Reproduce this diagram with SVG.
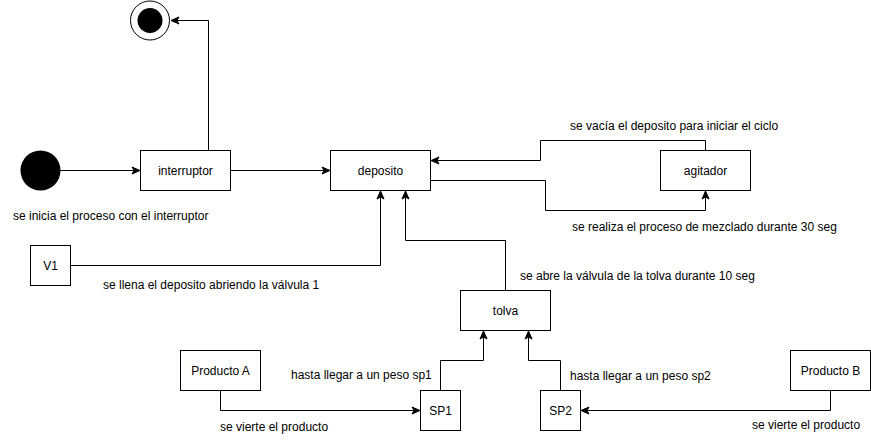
<svg xmlns="http://www.w3.org/2000/svg" width="871" height="441" viewBox="0 0 871 441">
<style>
.box{fill:#fff;stroke:#000;stroke-width:1}
.lbl{font-family:"Liberation Sans",Arial,sans-serif;font-size:12px;fill:#000}
.c{text-anchor:middle;dominant-baseline:central}
.edge{fill:none;stroke:#000;stroke-width:1}
</style>
<defs>
<marker id="arr" markerUnits="userSpaceOnUse" markerWidth="10" markerHeight="10" viewBox="0 0 10 10" refX="9" refY="5" orient="auto">
<path d="M1,1.5 L9,5 L1,8.5 L3,5 z" fill="#000" stroke="#000" stroke-width="1"/>
</marker>
</defs>
<rect width="871" height="441" fill="#fff"/>
<g id="connectors">
<path class="edge" d="M208.5,150 V20.5 H171" marker-end="url(#arr)"/>
<path class="edge" d="M60,170.5 H140" marker-end="url(#arr)"/>
<path class="edge" d="M230,170.5 H330" marker-end="url(#arr)"/>
<path class="edge" d="M705.5,150 V140.5 H540.5 V160.5 H431" marker-end="url(#arr)"/>
<path class="edge" d="M430,180.5 H545.5 V210.5 H705.5 V191" marker-end="url(#arr)"/>
<path class="edge" d="M70,265.5 H380.5 V191" marker-end="url(#arr)"/>
<path class="edge" d="M505.5,290 V240.5 H405.5 V191" marker-end="url(#arr)"/>
<path class="edge" d="M440.5,390 V360.5 H483.5 V331" marker-end="url(#arr)"/>
<path class="edge" d="M560.5,390 V360.5 H528.5 V331" marker-end="url(#arr)"/>
<path class="edge" d="M220.5,390 V410.5 H420" marker-end="url(#arr)"/>
<path class="edge" d="M830.5,390 V410.5 H581" marker-end="url(#arr)"/>
</g>
<g id="end">
<circle cx="150" cy="20.5" r="19.5" fill="#fff" stroke="#000"/>
<circle cx="150" cy="20.5" r="12.5" fill="#000"/>
</g>
<g id="start"><circle cx="40.5" cy="170.5" r="20" fill="#000"/></g>
<g id="interruptor"><rect class="box" x="140.5" y="150.5" width="90" height="40"/><text class="lbl c" x="185.5" y="170.5">interruptor</text></g>
<g id="deposito"><rect class="box" x="330.5" y="150.5" width="100" height="40"/><text class="lbl c" x="380.5" y="170.5">deposito</text></g>
<g id="agitador"><rect class="box" x="660.5" y="150.5" width="90" height="40"/><text class="lbl c" x="705.5" y="170.5">agitador</text></g>
<g id="v1"><rect class="box" x="30.5" y="245.5" width="40" height="40"/><text class="lbl c" x="50.5" y="265.5">V1</text></g>
<g id="tolva"><rect class="box" x="460.5" y="290.5" width="90" height="40"/><text class="lbl c" x="505.5" y="310.5">tolva</text></g>
<g id="productoA"><rect class="box" x="180.5" y="350.5" width="80" height="40"/><text class="lbl c" x="220.5" y="370.5">Producto A</text></g>
<g id="productoB"><rect class="box" x="790.5" y="350.5" width="80" height="40"/><text class="lbl c" x="830.5" y="370.5">Producto B</text></g>
<g id="sp1"><rect class="box" x="420.5" y="390.5" width="40" height="40"/><text class="lbl c" x="440.5" y="410.5">SP1</text></g>
<g id="sp2"><rect class="box" x="540.5" y="390.5" width="40" height="40"/><text class="lbl c" x="560.5" y="410.5">SP2</text></g>
<g id="labels">
<text class="lbl" x="13" y="220">se inicia el proceso con el interruptor</text>
<text class="lbl" x="570" y="130">se vacía el deposito para iniciar el ciclo</text>
<text class="lbl" x="572" y="231">se realiza el proceso de mezclado durante 30 seg</text>
<text class="lbl" x="103" y="289">se llena el deposito abriendo la válvula 1</text>
<text class="lbl" x="520" y="280">se abre la válvula de la tolva durante 10 seg</text>
<text class="lbl" x="291" y="379">hasta llegar a un peso sp1</text>
<text class="lbl" x="570" y="380">hasta llegar a un peso sp2</text>
<text class="lbl" x="220" y="431">se vierte el producto</text>
<text class="lbl" x="752" y="429">se vierte el producto</text>
</g>
</svg>
